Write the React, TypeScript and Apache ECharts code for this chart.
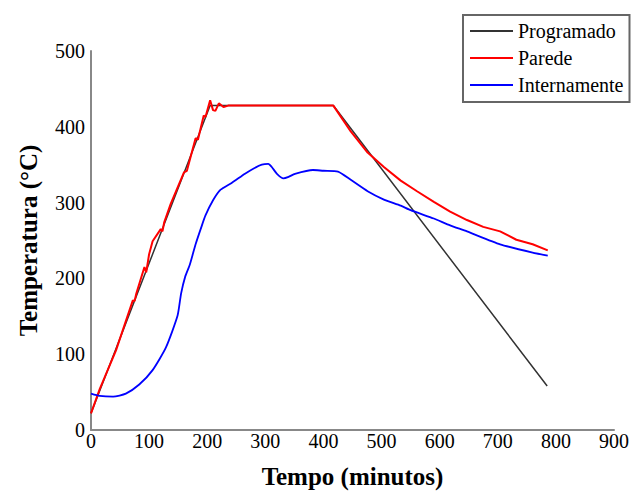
import React, { useEffect, useRef } from "react";
import * as echarts from "echarts";

const xTicks = [0, 100, 200, 300, 400, 500, 600, 700, 800, 900];
const yTicks = [0, 100, 200, 300, 400, 500];

const programado: [number, number][] = [
  [0, 22], [205, 428], [417, 428], [785, 58],
];

const parede: [number, number][] = [
  [0, 22], [15, 54], [43, 105], [72, 171], [75, 170], [78, 180], [92, 215], [95, 208], [100, 232],
  [106, 249], [120, 265], [123, 262], [126, 274], [137, 298], [160, 340], [165, 342], [180, 385],
  [184, 383], [194, 415], [197, 413], [205, 435], [210, 422], [214, 421], [220, 431], [228, 426],
  [236, 428], [260, 428], [300, 428], [350, 428], [417, 428], [447, 394], [476, 366], [504, 347],
  [533, 329], [561, 315], [590, 301], [618, 288], [647, 277], [675, 268], [704, 262], [732, 251],
  [760, 245], [786, 237],
];

const internamente: [number, number][] = [
  [0, 48], [15, 45], [38, 44], [60, 48], [83, 60], [106, 79], [129, 109], [149, 151], [155, 180],
  [162, 202], [170, 218], [180, 245], [190, 268], [197, 283], [210, 303], [223, 317], [242, 326],
  [265, 338], [280, 345], [294, 350], [305, 351], [311, 347], [320, 338], [331, 332], [340, 334],
  [351, 338], [382, 343], [400, 342], [425, 341], [447, 330], [476, 315], [504, 304], [533, 296],
  [550, 290], [590, 279], [618, 270], [647, 262], [704, 245], [760, 234], [786, 230],
];

const serif = "'Liberation Serif', 'Times New Roman', serif";

export default function App() {
  const ref = useRef<HTMLDivElement>(null);
  useEffect(() => {
    if (!ref.current) return;
    const chart = echarts.init(ref.current, undefined, { renderer: "svg" });
    chart.setOption({
      animation: false,
      backgroundColor: "#ffffff",
      textStyle: { fontFamily: serif },
      grid: { left: 79, right: 16, top: 43, bottom: 53 },
      legend: {
        orient: "vertical",
        left: 455,
        top: 7,
        itemWidth: 43,
        itemHeight: 2,
        itemGap: 7,
        padding: [6, 6, 7, 7],
        borderColor: "#666",
        borderWidth: 2,
        icon: "rect",
        textStyle: { fontFamily: serif, fontSize: 20, lineHeight: 20, color: "#000" },
        data: ["Programado", "Parede", "Internamente"],
      },
      xAxis: {
        type: "value",
        min: xTicks[0],
        max: xTicks[xTicks.length - 1],
        interval: 100,
        name: "Tempo (minutos)",
        nameLocation: "middle",
        nameGap: 34,
        nameTextStyle: { fontFamily: serif, fontSize: 25, fontWeight: "bold", color: "#000" },
        axisLine: { lineStyle: { color: "#888", width: 2 } },
        axisTick: { show: false },
        splitLine: { show: false },
        axisLabel: { fontFamily: serif, fontSize: 20, color: "#000", margin: 1 },
      },
      yAxis: {
        type: "value",
        min: yTicks[0],
        max: yTicks[yTicks.length - 1],
        interval: 100,
        name: "Temperatura (°C)",
        nameLocation: "middle",
        nameGap: 50,
        nameTextStyle: { fontFamily: serif, fontSize: 25, fontWeight: "bold", color: "#000" },
        axisLine: { show: true, lineStyle: { color: "#888", width: 2 } },
        axisTick: { show: false },
        splitLine: { show: false },
        axisLabel: { fontFamily: serif, fontSize: 20, color: "#000", margin: 6 },
      },
      series: [
        {
          name: "Programado",
          type: "line",
          data: programado,
          showSymbol: false,
          color: "#333333",
          lineStyle: { width: 1.5, color: "#333333" },
        },
        {
          name: "Parede",
          type: "line",
          data: parede,
          showSymbol: false,
          color: "#ff0000",
          lineStyle: { width: 2, color: "#ff0000" },
        },
        {
          name: "Internamente",
          type: "line",
          data: internamente,
          showSymbol: false,
          smooth: 0.2,
          color: "#0000ff",
          lineStyle: { width: 1.8, color: "#0000ff" },
        },
      ],
    });
    return () => chart.dispose();
  }, []);
  return <div ref={ref} style={{ width: 624, height: 486 }} />;
}
